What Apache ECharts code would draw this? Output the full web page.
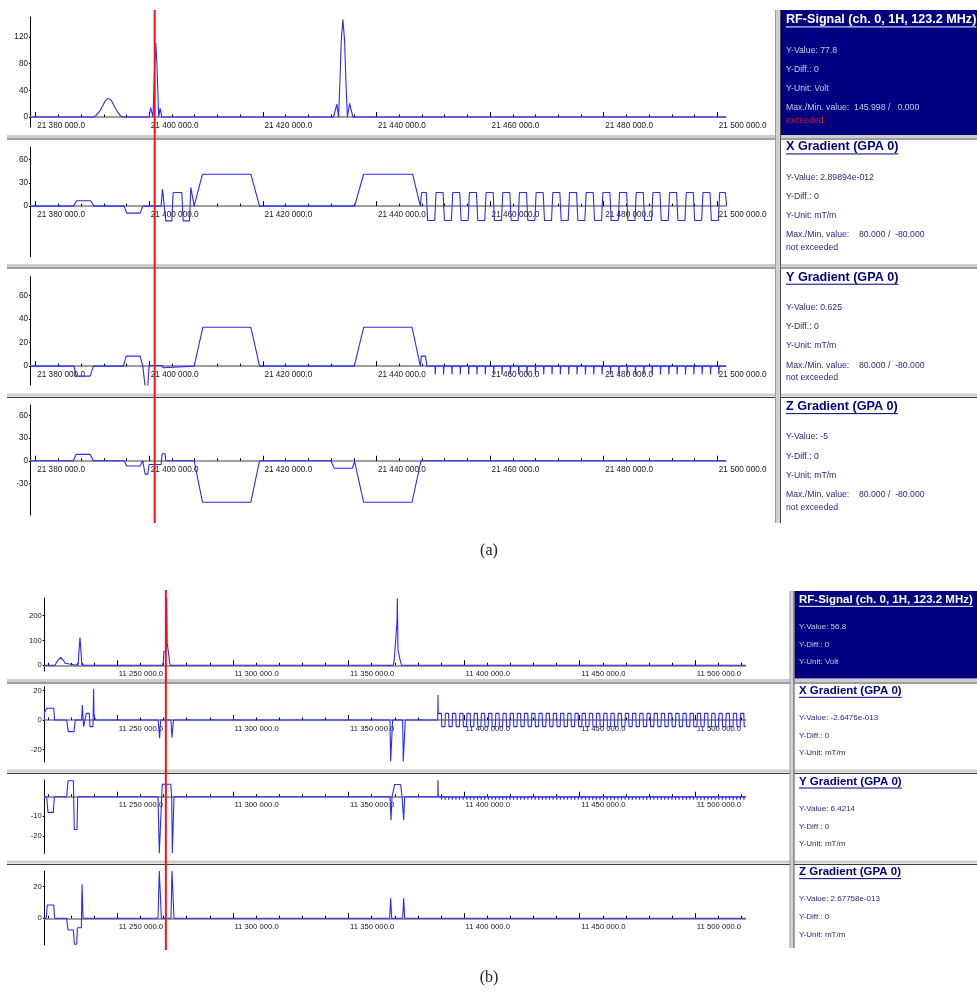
<!DOCTYPE html>
<html>
<head>
<meta charset="utf-8">
<script src="https://cdn.jsdelivr.net/npm/echarts@6/dist/echarts.min.js"></script>
<style>
html, body { margin: 0; padding: 0; background: #ffffff; }
#chart { width: 977px; height: 992px; }
</style>
</head>
<body>
<div id="chart"></div>
<script>
// ---------- sequence timing data (time in µs) ----------
const cursorA = 21400950;
const cursorB = 11271000;

const timeLabelsA = [21380000, 21400000, 21420000, 21440000, 21460000, 21480000, 21500000];
const timeLabelsB = [11250000, 11300000, 11350000, 11400000, 11450000, 11500000];

const ampLabelsA = [[0, 40, 80, 120], [0, 30, 60], [0, 20, 40, 60], [-30, 0, 30, 60]];
const ampLabelsB = [[0, 100, 200], [-20, 0, 20], [-20, -10], [0, 20]];

// sequence (a): RF amplitude (Volt)
const rfA = [
  [21379085, 0], [21390100, 0], [21390600, 2], [21391200, 8], [21391800, 17], [21392300, 25],
  [21392780, 28], [21393300, 25], [21393800, 17], [21394400, 8], [21394900, 2], [21395350, 0],
  [21399950, 0], [21400250, 14], [21400650, 0], [21400800, 40], [21400950, 77.8], [21401150, 111],
  [21401350, 78], [21401500, 40], [21401650, 0], [21401900, 13], [21402200, 0],
  [21432440, 0], [21433027, 19.5], [21433320, 0], [21433550, 50], [21433800, 115], [21434089, 146],
  [21434380, 115], [21434630, 50], [21434880, 0], [21435264, 20.5], [21435851, 0],
  [21501535, 0]
];
// sequence (a): gradients (mT/m)
const gradXA = [
  [21379085, 0], [21386636, 0], [21387224, 7], [21389690, 7], [21390278, 0],
  [21395565, 0], [21396035, -9], [21398384, -9], [21398853, 0],
  [21402083, 0], [21402318, 22], [21402670, 22], [21402905, -19], [21403962, -19], [21404197, 17.5],
  [21405724, 17.5], [21405959, -19], [21407074, -19], [21407309, 24], [21407661, 24], [21407896, 0],
  [21409364, 41], [21417880, 41], [21419407, 0],
  [21436145, 0], [21437731, 41], [21446364, 41], [21447715, 0], [21447950, 17.5]
];
const gradXAEnd = [[21501420, 17.5], [21501650, 0]];
// echo-planar readout: gradient reversal instants
const reversalsA = [
  21448890, 21450370, 21451839, 21453307, 21454776, 21456244, 21457713, 21459181, 21460650,
  21462118, 21463587, 21465055, 21466524, 21467992, 21469461, 21470929, 21472398, 21473866,
  21475335, 21476803, 21478272, 21479740, 21481209, 21482677, 21484146, 21485614, 21487083,
  21488551, 21490020, 21491488, 21492957, 21494425, 21495894, 21497362, 21498831, 21500299
];
const gradYA = [
  [21379085, 0], [21386753, 0], [21387106, -8.5], [21389573, -8.5], [21390160, 0],
  [21395447, 0], [21395917, 8.5], [21398384, 8.5], [21398853, 0], [21398970, 0], [21399265, -17],
  [21399735, -17], [21399970, 0.625], [21402200, 0.625], [21402500, -1.4], [21402790, 0],
  [21407900, 0], [21409427, 33], [21417884, 33], [21419411, 0],
  [21436095, 0], [21437739, 33], [21446256, 33], [21447724, 0], [21447900, 8.5], [21448600, 8.5], [21448900, 0]
];
const gradYAEnd = [[21501535, 0]];
const gradZA = [
  [21379085, 0], [21386636, 0], [21387106, 8.4], [21389573, 8.4], [21390160, 0],
  [21395565, 0], [21396035, -7], [21398384, -7], [21398853, 0], [21398970, 0], [21399265, -17.8],
  [21399735, -17.8], [21399970, -5], [21402083, -5], [21402260, 9.3], [21402790, 9.3], [21402905, 0],
  [21407896, 0], [21409364, -55], [21417880, -55], [21419407, 0],
  [21431980, 0], [21432567, -10], [21435730, -10], [21436145, -1], [21437731, -55], [21446256, -55], [21447841, 0],
  [21501535, 0]
];

// sequence (b): RF amplitude (Volt)
const rfB = [
  [11218428, 0], [11223040, 0], [11223700, 8], [11224400, 22], [11225000, 30], [11225491, 32],
  [11226000, 30], [11226700, 20], [11227400, 8], [11228086, 0],
  [11232500, 0], [11232800, 10], [11233050, 0], [11233400, 55], [11233853, 112], [11234300, 55],
  [11234650, 0], [11234900, 10], [11235200, 0],
  [11269600, 0], [11269900, 15], [11270200, 56.8], [11271100, 56.8], [11271200, 200], [11271330, 275],
  [11271460, 200], [11271580, 89], [11272000, 89], [11272300, 40], [11272600, 12], [11273000, 0],
  [11369300, 0], [11369700, 14], [11370100, 62], [11370900, 62], [11371000, 180], [11371103, 270],
  [11371250, 180], [11371400, 62], [11372200, 62], [11372500, 14], [11372977, 0],
  [11521783, 0]
];
// sequence (b): gradients (mT/m)
const gradXB = [
  [11218428, 0], [11218500, 5], [11219100, 5], [11219500, 8], [11222500, 8], [11222900, 0],
  [11228086, 0], [11228807, -7.9], [11231258, -7.9], [11231835, 0],
  [11234574, 0], [11234862, 10.2], [11235050, 10.2], [11235439, -4.5], [11236304, -4.5], [11236592, 4.5],
  [11237890, 4.5], [11238178, -4.5], [11239476, -4.5], [11239764, 21], [11239908, 4.5], [11240340, 4.5], [11240485, 0],
  [11267590, 0], [11268000, -6], [11268300, -12.4], [11268600, -3], [11268900, 0],
  [11273210, 0], [11273640, -12], [11274000, -5], [11274365, 0],
  [11367931, 0], [11368220, -28], [11368650, -28], [11369080, 0],
  [11373410, 0], [11373700, -28], [11374130, -28], [11374560, 0],
  [11388600, 0], [11388680, 17], [11388800, 4.5]
];
const gradXBEnd = [[11521783, -4.5]];
const reversalsB = [
  11390257, 11391814, 11393371, 11394928, 11396485, 11398042, 11399599, 11401156, 11402713, 11404270,
  11405827, 11407384, 11408941, 11410498, 11412055, 11413612, 11415169, 11416726, 11418283, 11419840,
  11421397, 11422954, 11424511, 11426068, 11427625, 11429182, 11430739, 11432296, 11433853, 11435410,
  11436967, 11438524, 11440081, 11441638, 11443195, 11444752, 11446309, 11447866, 11449423, 11450980,
  11452537, 11454094, 11455651, 11457208, 11458765, 11460322, 11461879, 11463436, 11464993, 11466550,
  11468107, 11469664, 11471221, 11472778, 11474335, 11475892, 11477449, 11479006, 11480563, 11482120,
  11483677, 11485234, 11486791, 11488348, 11489905, 11491462, 11493019, 11494576, 11496133, 11497690,
  11499247, 11500804, 11502361, 11503918, 11505475, 11507032, 11508589, 11510146, 11511703, 11513260,
  11514817, 11516374, 11517931, 11519488, 11521045
];
const gradYB = [
  [11218428, 0], [11219466, 0], [11220028, -8], [11222349, -8], [11222752, 0],
  [11228115, 0], [11228677, 8.2], [11230999, 8.2], [11231400, -16.8], [11232585, -16.8], [11232874, 0],
  [11267603, 0], [11268165, -29], [11268770, -29], [11269203, 0], [11269462, 6.42], [11273095, 6.42],
  [11273528, 0], [11273787, -29], [11274220, -29], [11274523, 0],
  [11367947, 0], [11368380, -12], [11368813, 0], [11369390, 0], [11369966, 6.3], [11372561, 6.3],
  [11373138, 0], [11373859, -12], [11374290, 0],
  [11388600, 0], [11388680, 8.5], [11388800, 0]
];
const gradYBEnd = [[11521783, 0]];
const gradZB = [
  [11218428, 0], [11219300, 0], [11219700, 8.4], [11222500, 8.4], [11222900, 0],
  [11228115, 0], [11228677, -7.4], [11230999, -7.4], [11231432, -16.4], [11232441, -16.4], [11232730, -6],
  [11234460, -6], [11234753, 21.5], [11235187, 0],
  [11267603, 0], [11268165, 30], [11268600, 30], [11269059, 0],
  [11273225, 0], [11273658, 30], [11274090, 30], [11274523, 0],
  [11367802, 0], [11368235, 12.6], [11368668, 0],
  [11373424, 0], [11373857, 12.6], [11374290, 0],
  [11521783, 0]
];

// info panel texts
const infoA = [
  { title: 'RF-Signal (ch. 0, 1H, 123.2 MHz)', lines: ['Y-Value: 77.8', 'Y-Diff.: 0', 'Y-Unit: Volt', 'Max./Min. value:  145.998 /   0.000'], note: 'exceeded' },
  { title: 'X Gradient (GPA 0)', lines: ['Y-Value: 2.89894e-012', 'Y-Diff.: 0', 'Y-Unit: mT/m', 'Max./Min. value:    80.000 /  -80.000'], note: 'not exceeded' },
  { title: 'Y Gradient (GPA 0)', lines: ['Y-Value: 0.625', 'Y-Diff.: 0', 'Y-Unit: mT/m', 'Max./Min. value:    80.000 /  -80.000'], note: 'not exceeded' },
  { title: 'Z Gradient (GPA 0)', lines: ['Y-Value: -5', 'Y-Diff.: 0', 'Y-Unit: mT/m', 'Max./Min. value:    80.000 /  -80.000'], note: 'not exceeded' }
];
const infoB = [
  { title: 'RF-Signal (ch. 0, 1H, 123.2 MHz)', lines: ['Y-Value: 56.8', 'Y-Diff.: 0', 'Y-Unit: Volt'] },
  { title: 'X Gradient (GPA 0)', lines: ['Y-Value: -2.6476e-013', 'Y-Diff.: 0', 'Y-Unit: mT/m'] },
  { title: 'Y Gradient (GPA 0)', lines: ['Y-Value: 6.4214', 'Y-Diff.: 0', 'Y-Unit: mT/m'] },
  { title: 'Z Gradient (GPA 0)', lines: ['Y-Value: 2.67758e-013', 'Y-Diff.: 0', 'Y-Unit: mT/m'] }
];

// ---------- waveform helpers ----------
// trapezoidal switching between two levels at each reversal instant
function reversalTrain(times, startHigh, hi, lo, ramp) {
  const pts = [];
  let high = startHigh;
  for (const t of times) {
    const a = high ? hi : lo, b = high ? lo : hi;
    pts.push([t - ramp, a], [t + ramp, b]);
    high = !high;
  }
  return pts;
}
// short phase-encoding blip at each reversal instant
function blipTrain(times, depth, half) {
  const pts = [];
  for (const t of times) {
    pts.push([t - 2 * half, 0], [t - half, depth], [t + half, depth], [t + 2 * half, 0]);
  }
  return pts;
}

const seriesA = [
  rfA,
  gradXA.concat(reversalTrain(reversalsA, true, 17.5, -18.5, 117), gradXAEnd),
  gradYA.concat(blipTrain(reversalsA.slice(1), -7, 25), gradYAEnd),
  gradZA
];
const seriesB = [
  rfB,
  gradXB.concat(reversalTrain(reversalsB, true, 4.5, -4.5, 90), gradXBEnd),
  gradYB.concat(blipTrain(reversalsB, -1.5, 40), gradYBEnd),
  gradZB
];

// ---------- layout ----------
const FONT = '"Liberation Sans", Arial, sans-serif';
const panels = [
  {
    left: 30.5, width: 695.5, min: 21379085, max: 21501535, minorStep: 4000,
    labels: timeLabelsA, amp: ampLabelsA, data: seriesA, font: 8.2,
    rows: [
      { top: 17, height: 110, min: -15, max: 150 },
      { top: 147, height: 109.7, min: -65, max: 76 },
      { top: 276.7, height: 108.3, min: -16, max: 76 },
      { top: 405, height: 110, min: -72, max: 74 }
    ]
  },
  {
    left: 44.3, width: 701.4, min: 11218428, max: 11521783, minorStep: 10000,
    labels: timeLabelsB, amp: ampLabelsB, data: seriesB, font: 7.7,
    rows: [
      { top: 598.3, height: 72.7, min: -23, max: 270 },
      { top: 686.7, height: 75, min: -28.3, max: 22.6 },
      { top: 780, height: 73.3, min: -29, max: 8.6 },
      { top: 871, height: 74, min: -16.9, max: 29.9 }
    ]
  }
];

function fmtTime(v) {
  return String(Math.round(v)).replace(/\B(?=(\d{3})+(?!\d))/g, ' ') + '.0';
}

const grid = [], xAxis = [], yAxis = [], series = [];
panels.forEach(p => {
  const minor = [];
  for (let t = Math.ceil(p.min / p.minorStep) * p.minorStep; t <= p.max; t += p.minorStep) minor.push(t);
  p.rows.forEach((r, i) => {
    const g = grid.length;
    grid.push({ left: p.left, top: r.top, width: p.width, height: r.height });
    // distance of the zero level from the top of the plot
    const zeroOffset = r.max / (r.max - r.min) * r.height;
    const mainIdx = xAxis.length;
    // time axis drawn along the zero level, labels right under it
    xAxis.push({
      type: 'value', gridIndex: g, min: p.min, max: p.max, position: 'bottom',
      offset: -(r.height - zeroOffset),
      axisLine: { show: true, onZero: false, lineStyle: { color: '#808080', width: 1.5 } },
      axisTick: { show: true, inside: true, length: 5, customValues: p.labels, lineStyle: { color: '#000', width: 1 } },
      axisLabel: {
        show: true, customValues: p.labels, formatter: fmtTime, align: 'left', margin: 4.5,
        padding: [0, 0, 0, 1.5], fontSize: p.font, fontFamily: FONT, color: '#1a1a1a'
      },
      splitLine: { show: false }
    });
    // minor time ticks along the same zero level
    xAxis.push({
      type: 'value', gridIndex: g, min: p.min, max: p.max, position: 'top', offset: -zeroOffset,
      axisLine: { show: false, onZero: false },
      axisTick: { show: true, inside: false, length: 2.5, customValues: minor, lineStyle: { color: '#000', width: 1 } },
      axisLabel: { show: false },
      splitLine: { show: false }
    });
    yAxis.push({
      type: 'value', gridIndex: g, min: r.min, max: r.max, position: 'left',
      axisLine: { show: true, onZero: false, lineStyle: { color: '#000', width: 1 } },
      axisTick: { show: true, length: 1.5, customValues: p.amp[i], lineStyle: { color: '#000' } },
      axisLabel: { show: true, customValues: p.amp[i], margin: 2.5, fontSize: p.font, fontFamily: FONT, color: '#1a1a1a' },
      splitLine: { show: false }
    });
    series.push({
      type: 'line', xAxisIndex: mainIdx, yAxisIndex: g, data: p.data[i],
      showSymbol: false, symbol: 'none', silent: true, clip: true, z: 3,
      lineStyle: { color: '#2a2aff', width: 1.1 }
    });
  });
});

const chart = echarts.init(document.getElementById('chart'), null, { renderer: 'canvas' });
chart.setOption({ animation: false, backgroundColor: '#ffffff', grid, xAxis, yAxis, series });

// ---------- frame, info boxes and cursors ----------
const measure = document.createElement('canvas').getContext('2d');
const G = [];
function rect(x, y, w, h, fill, z) {
  G.push({ type: 'rect', silent: true, z: z, shape: { x, y, width: w, height: h }, style: { fill } });
}
function line(x1, y1, x2, y2, stroke, w, z) {
  G.push({ type: 'line', silent: true, z: z, shape: { x1, y1, x2, y2 }, style: { stroke, lineWidth: w } });
}
function text(x, y, str, font, fill, align) {
  G.push({
    type: 'text', silent: true, z: 12, x: x, y: y,
    style: { text: str, font: font, fill: fill, align: align || 'left', verticalAlign: 'middle' }
  });
}
function title(x, y, str, size, fill) {
  const font = 'bold ' + size + 'px ' + FONT;
  text(x, y, str, font, fill);
  measure.font = font;
  const w = measure.measureText(str).width;
  line(x, y + size * 0.55, x + w, y + size * 0.55, fill, 1, 12);
}

// navy header boxes for the RF channel
rect(781, 10, 196, 125, '#000080', 8);
rect(794.5, 591, 182.5, 87.5, '#000080', 8);

// horizontal separators between channels
[135, 264, 393.5, 679, 769.5, 860.5].forEach(y => {
  rect(7, y, 970, 3, '#cdcdcd', 9);
  line(7, y + 4, 977, y + 4, '#3c3c3c', 1, 9);
});
// vertical splitter between plots and info column
rect(776, 10, 4.5, 513, '#d0d0d0', 10);
line(775.5, 10, 775.5, 523, '#9a9a9a', 1, 10);
line(780.5, 10, 780.5, 523, '#505050', 1, 10);
rect(790.5, 591, 3.5, 357, '#d0d0d0', 10);
line(790, 591, 790, 948, '#9a9a9a', 1, 10);
line(794, 591, 794, 948, '#505050', 1, 10);

// info texts
const titleYA = [20, 147, 277.3, 406.7];
const lineDA = [30.3, 49.5, 68.5, 88, 100.5];
infoA.forEach((b, i) => {
  const onNavy = i === 0;
  title(786, titleYA[i], b.title, 12.6, onNavy ? '#ffffff' : '#000080');
  const c = onNavy ? '#c8c8e0' : '#2a2a86';
  const f = '8.7px ' + FONT;
  b.lines.forEach((s, k) => text(786, titleYA[i] + lineDA[k], s, f, c));
  text(786, titleYA[i] + lineDA[4], b.note, f, onNavy ? '#e0141e' : c);
});
const titleYB = [600, 691, 781.7, 872.3];
const lineDB = [26.9, 44.7, 62];
infoB.forEach((b, i) => {
  const onNavy = i === 0;
  title(799, titleYB[i], b.title, 11.5, onNavy ? '#ffffff' : '#000080');
  const c = onNavy ? '#c8c8e0' : '#2a2a86';
  const f = '8px ' + FONT;
  b.lines.forEach((s, k) => text(799, titleYB[i] + lineDB[k], s, f, c));
});

// sub-figure captions
text(489, 551, '(a)', '16px "Liberation Serif", "Times New Roman", serif', '#222222', 'center');
text(489, 978, '(b)', '16px "Liberation Serif", "Times New Roman", serif', '#222222', 'center');

// time cursors, placed through the axis scales
const cxA = chart.convertToPixel({ xAxisIndex: 0 }, cursorA);
const cxB = chart.convertToPixel({ xAxisIndex: 8 }, cursorB);
line(cxA, 10, cxA, 523, '#ff1010', 2, 20);
line(cxB, 590, cxB, 950, '#ff1010', 2, 20);

chart.setOption({ graphic: { elements: G } });
</script>
</body>
</html>
